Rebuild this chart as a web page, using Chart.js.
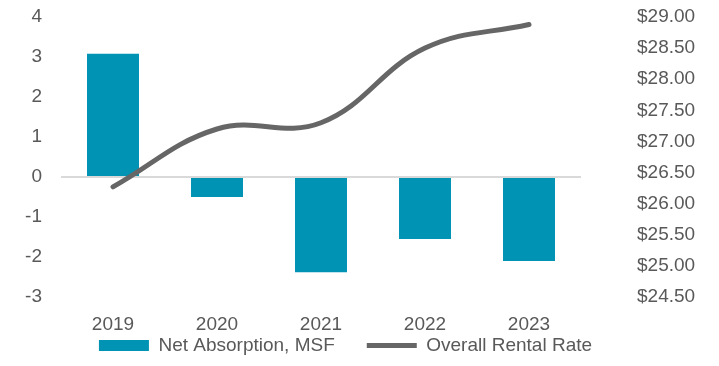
<!DOCTYPE html>
<html>
<head>
<meta charset="utf-8">
<script src="https://cdn.jsdelivr.net/npm/chart.js@4.4.1/dist/chart.umd.min.js"></script>
<style>
  html, body { margin: 0; padding: 0; background: #fff; }
  #wrap { width: 719px; height: 366px; }
</style>
</head>
<body>
<div id="wrap"><canvas id="comboChart" width="719" height="366"></canvas></div>
<script>
const years = ["2019", "2020", "2021", "2022", "2023"];
const netAbsorption = [3.08, -0.5, -2.38, -1.55, -2.1];
const rentalRate = [26.27, 27.2, 27.3, 28.5, 28.88];
const leftTicks = [-3, -2, -1, 0, 1, 2, 3, 4];
const rightTicks = [24.5, 25, 25.5, 26, 26.5, 27, 27.5, 28, 28.5, 29];

const fontFamily = "'Liberation Sans', Arial, sans-serif";
const textColor = "#595959";

// la leyenda usa padding 32 entre items, pero no queremos que ocupe tanto alto
const ajusteLeyenda = {
  id: "ajusteLeyenda",
  beforeLayout(chart) {
    const lg = chart.legend;
    if (lg && !lg._parcheado) {
      const fitOriginal = lg.fit;
      lg.fit = function () {
        fitOriginal.call(this);
        this.height = 29;
      };
      lg._parcheado = true;
    }
  },
  afterLayout(chart) {
    const lg = chart.legend;
    lg.top -= 33;
    lg.left -= 14;
    lg.right -= 14;
  },
};

function sinPadding(scale, ancho) {
  scale.width = ancho;
  scale.paddingTop = 0;
  scale.paddingBottom = 0;
}

function generarGrafico() {
  const ctx = document.getElementById("comboChart").getContext("2d");

  new Chart(ctx, {
    type: "bar",
    data: {
      labels: years,
      datasets: [
        {
          type: "line",
          label: "Overall Rental Rate",
          data: rentalRate,
          yAxisID: "yRight",
          borderColor: "#666666",
          backgroundColor: "#666666",
          borderWidth: 5,
          borderCapStyle: "round",
          pointRadius: 0,
          tension: 0.4,
          pointStyle: "line",
          order: 0,
        },
        {
          label: "Net Absorption, MSF",
          data: netAbsorption,
          yAxisID: "yLeft",
          backgroundColor: "#0093B3",
          borderWidth: 0,
          barPercentage: 1,
          categoryPercentage: 0.5,
          pointStyle: "rect",
          order: 1,
        },
      ],
    },
    plugins: [ajusteLeyenda],
    options: {
      responsive: false,
      animation: false,
      layout: { padding: { top: 17, left: 0, right: 0, bottom: 0 } },
      plugins: {
        tooltip: { enabled: false },
        legend: {
          position: "bottom",
          reverse: true,
          labels: {
            usePointStyle: true,
            pointStyleWidth: 50,
            boxHeight: 11,
            padding: 32,
            color: textColor,
            font: { family: fontFamily, size: 19 },
          },
        },
      },
      scales: {
        x: {
          grid: { display: false, drawTicks: false },
          border: { display: false },
          ticks: { color: textColor, font: { family: fontFamily, size: 19 }, padding: 16 },
          afterFit: (scale) => { scale.height = 40; },
        },
        yLeft: {
          position: "left",
          min: -3,
          max: 4,
          afterBuildTicks: (scale) => { scale.ticks = leftTicks.map((v) => ({ value: v })); },
          grid: {
            drawTicks: false,
            color: (c) => (c.tick && c.tick.value === 0 ? "#d9d9d9" : "rgba(0,0,0,0)"),
            lineWidth: 2,
          },
          border: { display: false },
          ticks: { autoSkip: false, color: textColor, font: { family: fontFamily, size: 19 }, padding: 19 },
          afterFit: (scale) => sinPadding(scale, 61),
        },
        yRight: {
          position: "right",
          min: 24.5,
          max: 29,
          afterBuildTicks: (scale) => { scale.ticks = rightTicks.map((v) => ({ value: v })); },
          grid: { display: false, drawTicks: false },
          border: { display: false },
          ticks: {
            autoSkip: false,
            color: textColor,
            font: { family: fontFamily, size: 19 },
            padding: 56,
            callback: (v) => "$" + Number(v).toFixed(2),
          },
          afterFit: (scale) => sinPadding(scale, 138),
        },
      },
    },
  });
}

document.addEventListener("DOMContentLoaded", generarGrafico);
</script>
</body>
</html>
